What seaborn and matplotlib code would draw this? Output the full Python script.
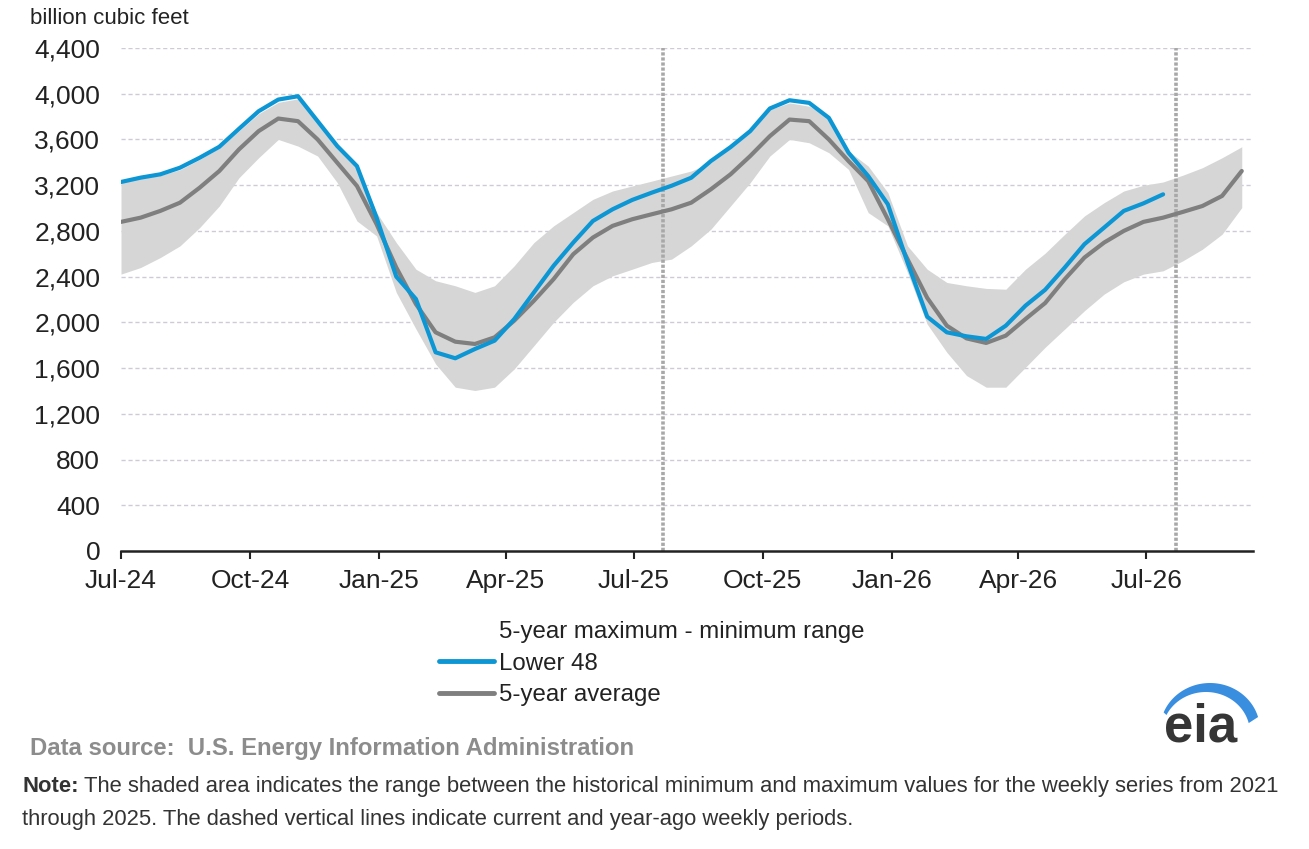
import numpy as np
import pandas as pd
import matplotlib
matplotlib.use("Agg")
import matplotlib.pyplot as plt
import matplotlib.dates as mdates
from matplotlib.lines import Line2D
from matplotlib.patches import Patch, Polygon
import seaborn as sns

# Weekly storage, sampled every two weeks from the start of Jul-2024 (billion cubic feet)
START = "2024-07-01"
STEP_DAYS = 14

lower48 = [3228, 3266, 3295, 3353, 3440, 3536, 3693, 3847, 3949, 3978,
           3760, 3542, 3367, 2916, 2400, 2204, 1738, 1686, 1767, 1840,
           2029, 2262, 2495, 2698, 2887, 2989, 3071, 3135, 3195, 3265,
           3411, 3533, 3673, 3871, 3943, 3920, 3789, 3484, 3280, 3033,
           2524, 2050, 1913, 1878, 1855, 1971, 2146, 2285, 2480, 2684,
           2829, 2975, 3041, 3120]

avg5 = [2879, 2916, 2975, 3047, 3178, 3324, 3513, 3673, 3783, 3760,
        3600, 3396, 3193, 2858, 2480, 2160, 1913, 1831, 1811, 1869,
        2015, 2189, 2378, 2596, 2742, 2844, 2902, 2946, 2989, 3047,
        3164, 3295, 3455, 3629, 3774, 3760, 3600, 3411, 3236, 2902,
        2553, 2215, 1971, 1860, 1820, 1884, 2029, 2169, 2378, 2567,
        2698, 2800, 2879, 2916, 2966, 3018, 3106, 3324]

range_max = [3230, 3260, 3285, 3335, 3425, 3525, 3675, 3825, 3925, 3955,
             3765, 3545, 3365, 2960, 2698, 2465, 2364, 2320, 2262, 2320,
             2495, 2698, 2844, 2960, 3076, 3149, 3193, 3236, 3280, 3324,
             3396, 3542, 3673, 3862, 3920, 3891, 3804, 3498, 3367, 3135,
             2669, 2465, 2349, 2320, 2297, 2290, 2465, 2605, 2771, 2931,
             3047, 3149, 3199, 3228, 3287, 3353, 3440, 3536]

range_min = [2422, 2480, 2567, 2669, 2829, 3018, 3265, 3440, 3600, 3542,
             3455, 3222, 2887, 2756, 2262, 1942, 1636, 1433, 1404, 1433,
             1593, 1796, 2000, 2175, 2320, 2407, 2465, 2524, 2553, 2669,
             2815, 3018, 3222, 3455, 3600, 3571, 3484, 3338, 2960, 2844,
             2436, 1985, 1738, 1535, 1433, 1433, 1607, 1782, 1942, 2102,
             2247, 2355, 2422, 2451, 2538, 2640, 2771, 3004]

# current and year-ago weekly periods
marker_dates = ["2025-07-22", "2026-07-22"]
x_end = "2026-09-15"

y_ticks = list(range(0, 4401, 400))

BLUE = "#0d96d4"
GREY = "#7f7f7f"
SHADE = "#d6d6d6"

sns.set_theme(style="white")
plt.rcParams["font.family"] = ["Liberation Sans", "DejaVu Sans"]

dates = pd.date_range(START, periods=len(avg5), freq=f"{STEP_DAYS}D")
df = pd.DataFrame({"date": dates, "avg": avg5, "hi": range_max, "lo": range_min})
df_l48 = pd.DataFrame({"date": dates[:len(lower48)], "value": lower48})

fig = plt.figure(figsize=(13.09, 8.49), dpi=100)
ax = fig.add_axes([121 / 1309, 1 - 551 / 849, (1253 - 121) / 1309, (551 - 48) / 849])

ax.fill_between(df["date"], df["lo"], df["hi"], color=SHADE, linewidth=0, zorder=1)
sns.lineplot(data=df, x="date", y="avg", color=GREY, linewidth=3.0, ax=ax, zorder=3)
sns.lineplot(data=df_l48, x="date", y="value", color=BLUE, linewidth=3.0, ax=ax, zorder=4)

for d in marker_dates:
    ax.axvline(pd.Timestamp(d), color="#a8a8a8", linewidth=2.6,
               linestyle=(0, (0.9, 0.5)), zorder=2)

ax.set_ylim(0, 4400)
ax.set_xlim(pd.Timestamp(START), pd.Timestamp(x_end))
ax.set_yticks(y_ticks)
ax.set_yticklabels([f"{v:,}" for v in y_ticks])
ax.xaxis.set_major_locator(mdates.MonthLocator(bymonth=[1, 4, 7, 10]))
ax.xaxis.set_major_formatter(mdates.DateFormatter("%b-%y"))
ax.set_xlabel("")
ax.set_ylabel("")

for v in y_ticks[1:]:
    ax.axhline(v, color="#cfcad4", linewidth=1.0, linestyle=(0, (3, 2)), zorder=0)

for s in ["top", "right", "left"]:
    ax.spines[s].set_visible(False)
ax.spines["bottom"].set_color("#222222")
ax.spines["bottom"].set_linewidth(1.8)
ax.spines["bottom"].set_zorder(5)
ax.tick_params(axis="x", direction="out", length=6, width=1.5, color="#222222",
               pad=7, labelsize=19, labelcolor="#222222", bottom=True)
ax.tick_params(axis="y", length=0, pad=15, labelsize=19, labelcolor="#222222")
ax.grid(False)

fig.text(30 / 1309, 1 - 24 / 849, "billion cubic feet", fontsize=16,
         color="#222222", ha="left", va="baseline")

handles = [Patch(facecolor="none", edgecolor="none"),
           Line2D([], [], color=BLUE, linewidth=3.5),
           Line2D([], [], color=GREY, linewidth=3.5)]
labels = ["5-year maximum - minimum range", "Lower 48", "5-year average"]
fig.legend(handles, labels, loc="upper left", bbox_to_anchor=(439 / 1309, 1 - 621 / 849),
           frameon=False, fontsize=17.3, handlelength=2.3, handletextpad=0.2,
           labelspacing=0.4, borderpad=0, borderaxespad=0, labelcolor="#222222")

fig.text(30 / 1309, 1 - 755 / 849,
         "Data source:  U.S. Energy Information Administration",
         fontsize=17.2, fontweight="bold", color="#8c8c8c", ha="left", va="baseline")

# eia logo (pixel units inside a small axes)
lax = fig.add_axes([1150 / 1309, 1 - 760 / 849, 110 / 1309, 85 / 849])
lax.set_xlim(0, 110)
lax.set_ylim(0, 85)
lax.axis("off")
t = np.linspace(np.radians(16), np.radians(158), 80)
outer = np.column_stack([60 + 50 * np.cos(t), 30 + 47 * np.sin(t)])
ti = np.linspace(np.radians(154), np.radians(14), 80)
inner = np.column_stack([56 + 44 * np.cos(ti), 27 + 41 * np.sin(ti)])
lax.add_patch(Polygon(np.vstack([outer, inner]), closed=True, color="#3a8ee0", linewidth=0))
lax.text(51, 18, "eia", fontsize=38, fontweight="bold", color="#363636",
         ha="center", va="baseline")

note_y = 1 - 792 / 849
note = fig.text(22 / 1309, note_y, "Note:", fontsize=15.8, fontweight="bold",
                color="#333333", ha="left", va="baseline")
renderer = fig.canvas.get_renderer()
bb = note.get_window_extent(renderer=renderer)
fig.text(bb.x1 / 1309 + 5 / 1309, note_y,
         "The shaded area indicates the range between the historical minimum and maximum values for the weekly series from 2021",
         fontsize=15.8, color="#333333", ha="left", va="baseline")
fig.text(22 / 1309, 1 - 825 / 849,
         "through 2025. The dashed vertical lines indicate current and year-ago weekly periods.",
         fontsize=15.8, color="#333333", ha="left", va="baseline")

fig.savefig("out.png", dpi=100, facecolor="white")
